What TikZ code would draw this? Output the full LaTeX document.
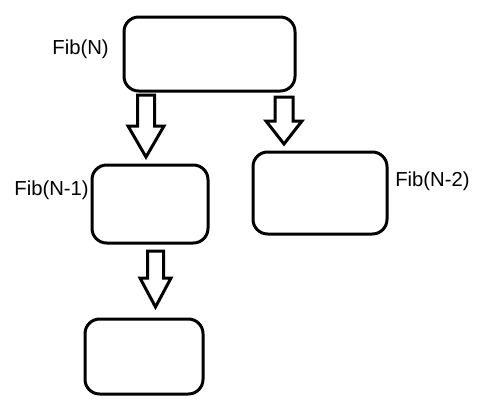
\documentclass[tikz,border=0pt]{standalone}
\usepackage{fontspec}
\setmainfont{Liberation Sans}
\usetikzlibrary{calc}

\tikzset{
  box/.style={draw,line width=2.25pt,rounded corners=11pt,inner sep=0pt},
  fat/.style={draw,line width=2.25pt,line join=miter},
  lbl/.style={inner sep=0pt,font=\fontsize{15.2pt}{18pt}\selectfont}
}

% block arrow: top, tip, half shaft, half head, head length
\newcommand{\fatarrow}[5]{%
  \path[fat] ($(#1)+(-#3,0)$) -- ($(#1)+(#3,0)$) -- ($(#2)+(#3,-#5)$)
    -- ($(#2)+(#4,-#5)$) -- (#2) -- ($(#2)+(-#4,-#5)$)
    -- ($(#2)+(-#3,-#5)$) -- cycle;}

\begin{document}
\begin{tikzpicture}[x=0.75pt,y=-0.75pt]

\useasboundingbox (0,0) rectangle (493,401);

\node[box,minimum width=128.25pt,minimum height=55.5pt] (fibn) at (209.5,54) {};
\node[box,minimum width=87pt,minimum height=58.5pt] (fibna) at (150,204) {};
\node[box,minimum width=100.5pt,minimum height=61.5pt] (fibnb) at (320,193) {};
\node[box,minimum width=88.5pt,minimum height=56.25pt] (fibnc) at (144,356.5) {};

\node[lbl,anchor=base east] at (109,54.5) {Fib(N)};
\node[lbl,anchor=base east] at (89,195) {Fib(N-1)};
\node[lbl,anchor=base west] at (395,186) {Fib(N-2)};

\coordinate (a1) at (146,95);
\coordinate (a1e) at (146,157);
\coordinate (a2) at (284,97);
\coordinate (a2e) at (284,144);
\coordinate (a3) at (155.5,251);
\coordinate (a3e) at (155.5,307);

\fatarrow{a1}{a1e}{8.5}{18}{31}
\fatarrow{a2}{a2e}{9}{18}{23}
\fatarrow{a3}{a3e}{8}{15.5}{29}

\end{tikzpicture}
\end{document}
